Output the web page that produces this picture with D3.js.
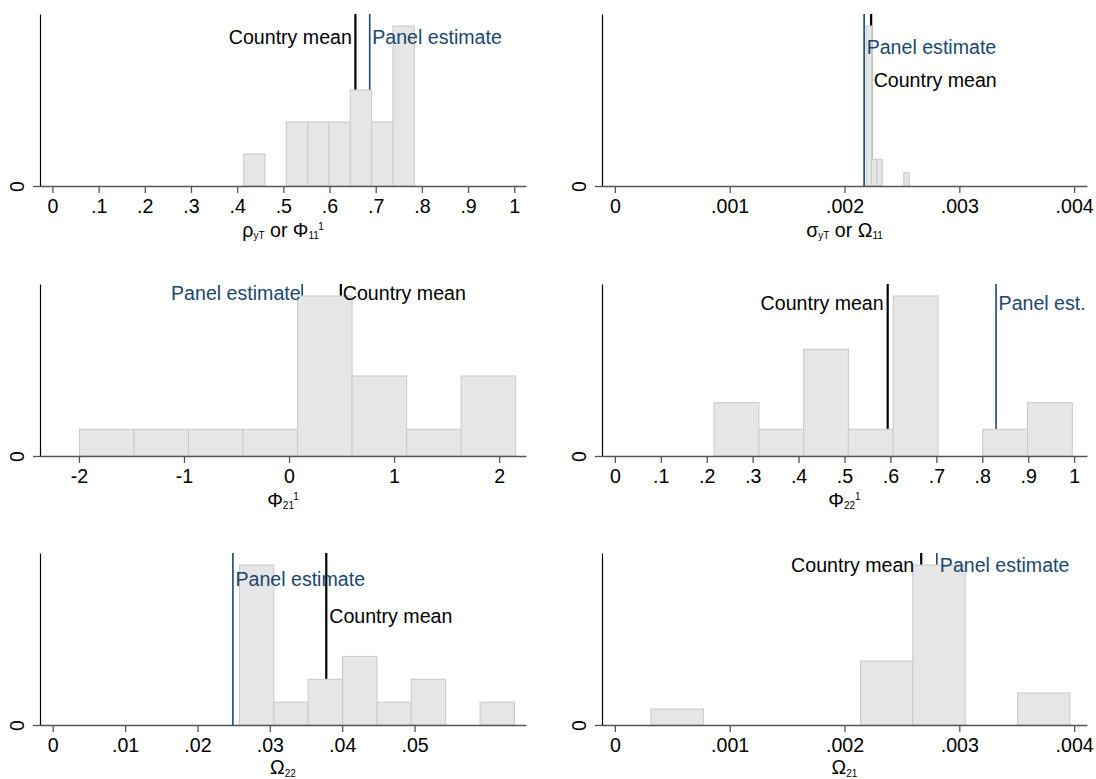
<!DOCTYPE html>
<html>
<head>
<meta charset="utf-8">
<script src="https://cdn.jsdelivr.net/npm/d3@7"></script>
<style>
  html, body { margin: 0; padding: 0; background: #fff; }
  svg text { white-space: pre; }
</style>
</head>
<body>
<script>
// ---------------- DATA ----------------
// Panel 1: rho_yT or Phi_11^1
const p1BinEdges = [0.414, 0.4602, 0.5064, 0.5526, 0.5988, 0.645, 0.6912, 0.7374, 0.7836];
const p1Counts = [1, 0, 2, 2, 2, 3, 2, 5];
const p1CountryMean = 0.656;
const p1PanelEstimate = 0.687;
const p1TickValues = [0, 0.1, 0.2, 0.3, 0.4, 0.5, 0.6, 0.7, 0.8, 0.9, 1];
const p1TickLabels = ["0", ".1", ".2", ".3", ".4", ".5", ".6", ".7", ".8", ".9", "1"];

// Panel 2: sigma_yT or Omega_11
const p2BinEdges = [0.002188, 0.002235, 0.002282, 0.002329, 0.002376, 0.002423, 0.002470, 0.002517, 0.002564];
const p2Counts = [12, 2, 2, 0, 0, 0, 0, 1];
const p2CountryMean = 0.002232;
const p2PanelEstimate = 0.002171;
const p2TickValues = [0, 0.001, 0.002, 0.003, 0.004];
const p2TickLabels = ["0", ".001", ".002", ".003", ".004"];

// Panel 3: Phi_21^1
const p3BinEdges = [-1.995, -1.476, -0.957, -0.438, 0.081, 0.600, 1.119, 1.638, 2.157];
const p3Counts = [1, 1, 1, 1, 6, 3, 1, 3];
const p3CountryMean = 0.493;
const p3PanelEstimate = 0.125;
const p3TickValues = [-2, -1, 0, 1, 2];
const p3TickLabels = ["-2", "-1", "0", "1", "2"];

// Panel 4: Phi_22^1
const p4BinEdges = [0.216, 0.3135, 0.411, 0.5085, 0.606, 0.7035, 0.801, 0.8985, 0.996];
const p4Counts = [2, 1, 4, 1, 6, 0, 1, 2];
const p4CountryMean = 0.594;
const p4PanelEstimate = 0.830;
const p4TickValues = [0, 0.1, 0.2, 0.3, 0.4, 0.5, 0.6, 0.7, 0.8, 0.9, 1];
const p4TickLabels = ["0", ".1", ".2", ".3", ".4", ".5", ".6", ".7", ".8", ".9", "1"];

// Panel 5: Omega_22
const p5BinEdges = [0.0258, 0.03055, 0.0353, 0.04005, 0.0448, 0.04955, 0.0543, 0.05905, 0.0638];
const p5Counts = [7, 1, 2, 3, 1, 2, 0, 1];
const p5CountryMean = 0.0378;
const p5PanelEstimate = 0.0249;
const p5TickValues = [0, 0.01, 0.02, 0.03, 0.04, 0.05];
const p5TickLabels = ["0", ".01", ".02", ".03", ".04", ".05"];

// Panel 6: Omega_21
const p6BinEdges = [0.000315, 0.000771, 0.001227, 0.001683, 0.002139, 0.002595, 0.003051, 0.003507, 0.003963];
const p6Counts = [1, 0, 0, 0, 4, 10, 0, 2];
const p6CountryMean = 0.002668;
const p6PanelEstimate = 0.002804;
const p6TickValues = [0, 0.001, 0.002, 0.003, 0.004];
const p6TickLabels = ["0", ".001", ".002", ".003", ".004"];

const countryMeanLabel = "Country mean";
const panelEstimateLabel = "Panel estimate";
const panelEstShortLabel = "Panel est.";

// ---------------- LAYOUT ----------------
const W = 1096, H = 779;
const FONT = "'Liberation Sans', Arial, Helvetica, sans-serif";
const FS = "19.6px";
const BLUE = "#1a476f";
const cols = [{ x0: 40, x1: 526 }, { x0: 602, x1: 1087 }];
const rows = [
  { top: 14, base: 186, titleOff: 50.5 },
  { top: 284, base: 456, titleOff: 50.5 },
  { top: 553, base: 725, titleOff: 49 }
];

const panels = [
  { col: 0, row: 0, edges: p1BinEdges, counts: p1Counts, cm: p1CountryMean, pe: p1PanelEstimate,
    ticks: p1TickValues, tickLabels: p1TickLabels, domain: [-0.0269, 1.0254],
    title: [["ρ", "n"], ["yT", "sub"], [" or Φ", "n"], ["11", "sub"], ["1", "sup"]],
    cmLab: { text: countryMeanLabel, side: "left", gap: 3.5, dy: 22.7 },
    peLab: { text: panelEstimateLabel, side: "right", gap: 2.5, dy: 22.7 } },
  { col: 1, row: 0, edges: p2BinEdges, counts: p2Counts, cm: p2CountryMean, pe: p2PanelEstimate,
    ticks: p2TickValues, tickLabels: p2TickLabels, domain: [-0.000112, 0.004112],
    title: [["σ", "n"], ["yT", "sub"], [" or Ω", "n"], ["11", "sub"]],
    cmLab: { text: countryMeanLabel, side: "right", gap: 2.5, dy: 66 },
    peLab: { text: panelEstimateLabel, side: "right", gap: 2.5, dy: 32.7 } },
  { col: 0, row: 1, edges: p3BinEdges, counts: p3Counts, cm: p3CountryMean, pe: p3PanelEstimate,
    ticks: p3TickValues, tickLabels: p3TickLabels, domain: [-2.371, 2.256],
    title: [["Φ", "n"], ["21", "sub"], ["1", "sup"]],
    cmLab: { text: countryMeanLabel, side: "right", gap: 2, dy: 9 },
    peLab: { text: panelEstimateLabel, side: "left", gap: 1.5, dy: 9 } },
  { col: 1, row: 1, edges: p4BinEdges, counts: p4Counts, cm: p4CountryMean, pe: p4PanelEstimate,
    ticks: p4TickValues, tickLabels: p4TickLabels, domain: [-0.028, 1.028],
    title: [["Φ", "n"], ["22", "sub"], ["1", "sup"]],
    cmLab: { text: countryMeanLabel, side: "left", gap: 4, dy: 19.3 },
    peLab: { text: panelEstShortLabel, side: "right", gap: 2.5, dy: 19.3 } },
  { col: 0, row: 2, edges: p5BinEdges, counts: p5Counts, cm: p5CountryMean, pe: p5PanelEstimate,
    ticks: p5TickValues, tickLabels: p5TickLabels, domain: [-0.00176, 0.0654],
    title: [["Ω", "n"], ["22", "sub"]],
    cmLab: { text: countryMeanLabel, side: "right", gap: 3, dy: 63 },
    peLab: { text: panelEstimateLabel, side: "right", gap: 2.5, dy: 26 } },
  { col: 1, row: 2, edges: p6BinEdges, counts: p6Counts, cm: p6CountryMean, pe: p6PanelEstimate,
    ticks: p6TickValues, tickLabels: p6TickLabels, domain: [-0.000112, 0.004112],
    title: [["Ω", "n"], ["21", "sub"]],
    cmLab: { text: countryMeanLabel, side: "left", gap: 7, dy: 12 },
    peLab: { text: panelEstimateLabel, side: "right", gap: 3, dy: 12 } }
];

const svg = d3.select("body").append("svg")
  .attr("width", W).attr("height", H)
  .style("font-family", FONT);
svg.append("rect").attr("width", W).attr("height", H).attr("fill", "#fff");

panels.forEach(p => {
  const c = cols[p.col], r = rows[p.row];
  const g = svg.append("g");
  const x = d3.scaleLinear().domain(p.domain).range([c.x0, c.x1]);
  const maxC = d3.max(p.counts);
  const y = d3.scaleLinear().domain([0, maxC * 1.075]).range([r.base, r.top]);

  // reference lines (drawn beneath bars)
  g.append("line")
    .attr("x1", x(p.cm)).attr("x2", x(p.cm))
    .attr("y1", r.top).attr("y2", r.base)
    .attr("stroke", "#000").attr("stroke-width", 2.2);
  g.append("line")
    .attr("x1", x(p.pe)).attr("x2", x(p.pe))
    .attr("y1", r.top).attr("y2", r.base)
    .attr("stroke", BLUE).attr("stroke-width", 1.6);

  // bars
  const bins = p.counts.map((cnt, i) => ({ x0: p.edges[i], x1: p.edges[i + 1], n: cnt }))
    .filter(b => b.n > 0);
  g.selectAll("rect.bar").data(bins).enter().append("rect")
    .attr("class", "bar")
    .attr("x", b => x(b.x0))
    .attr("width", b => x(b.x1) - x(b.x0))
    .attr("y", b => y(b.n))
    .attr("height", b => y(0) - y(b.n))
    .attr("fill", "#e6e6e6")
    .attr("stroke", "#cbcbcb")
    .attr("stroke-width", 1.1);

  // x axis
  const xAxis = d3.axisBottom(x)
    .tickValues(p.ticks)
    .tickFormat((d, i) => p.tickLabels[i])
    .tickSize(7).tickSizeOuter(0).tickPadding(6);
  const xg = g.append("g").attr("transform", `translate(0,${r.base})`).call(xAxis);
  xg.select(".domain").attr("stroke", "#555").attr("stroke-width", 1.3);
  xg.selectAll(".tick line").attr("stroke", "#555").attr("stroke-width", 1.3);
  xg.selectAll(".tick text").attr("fill", "#000")
    .style("font-size", FS).style("font-family", FONT);

  // y axis
  const yAxis = d3.axisLeft(y).tickValues([0]).tickFormat(() => "0")
    .tickSize(7).tickSizeOuter(0);
  const yg = g.append("g").attr("transform", `translate(${c.x0},0)`).call(yAxis);
  yg.select(".domain").attr("stroke", "#000").attr("stroke-width", 1.2);
  yg.selectAll(".tick line").attr("stroke", "#555").attr("stroke-width", 1.3);
  yg.selectAll(".tick text")
    .attr("x", null).attr("dy", null)
    .attr("transform", "translate(-16,0) rotate(-90)")
    .attr("text-anchor", "middle")
    .attr("fill", "#000")
    .style("font-size", FS).style("font-family", FONT);

  // annotations
  const annot = (lab, val, color) => {
    const lx = x(val);
    g.append("text")
      .attr("x", lab.side === "left" ? lx - lab.gap : lx + lab.gap)
      .attr("y", r.top + lab.dy + 7)
      .attr("text-anchor", lab.side === "left" ? "end" : "start")
      .attr("fill", color)
      .style("font-size", FS)
      .text(lab.text);
  };
  annot(p.cmLab, p.cm, "#000");
  annot(p.peLab, p.pe, BLUE);

  // x title
  const tt = g.append("text")
    .attr("x", (c.x0 + c.x1) / 2)
    .attr("y", r.base + r.titleOff)
    .attr("text-anchor", "middle")
    .attr("fill", "#000")
    .style("font-size", FS);
  let shift = 0;
  p.title.forEach(([txt, kind]) => {
    const target = kind === "sub" ? 2.8 : kind === "sup" ? -6.5 : 0;
    tt.append("tspan")
      .attr("dy", target - shift)
      .style("font-size", kind === "n" ? FS : "10px")
      .text(txt);
    shift = target;
  });
});
</script>
</body>
</html>
